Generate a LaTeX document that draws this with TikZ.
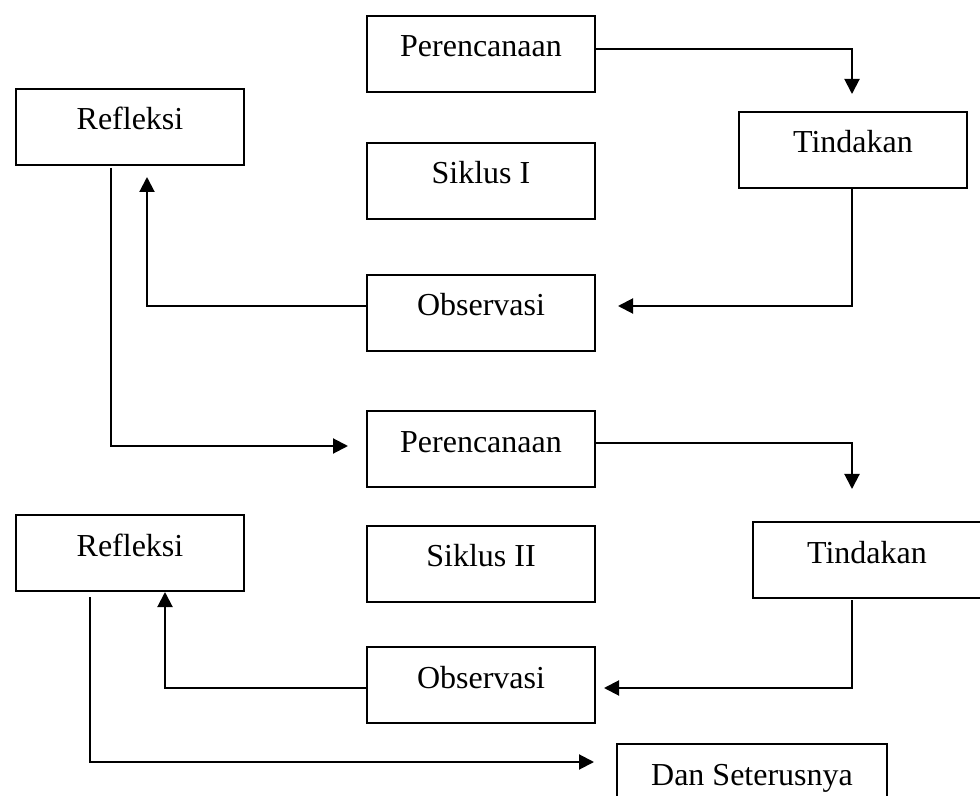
\documentclass[tikz,border=0pt]{standalone}
\usepackage{fontspec}
\setmainfont{Liberation Serif}
\usetikzlibrary{arrows.meta}
\begin{document}
\begin{tikzpicture}[x=0.5pt,y=-0.5pt,
  box/.style={draw, line width=1pt, rectangle, anchor=north west, inner sep=0pt, outer sep=0pt,
    minimum width=114pt, text height=20.5pt, text depth=17.5pt,
    font=\fontsize{16}{19}\selectfont},
  arr/.style={line width=1pt, -{Triangle[length=7.5pt,width=7.5pt]}}]
\clip (0,0) rectangle (980,796);
\fill[white] (0,0) rectangle (980,796);
% boxes
\node[box] (P1) at (367,16) {Perencanaan};
\node[box] (R1) at (16,89) {Refleksi};
\node[box] (T1) at (739,112) {Tindakan};
\node[box] (S1) at (367,143) {Siklus I};
\node[box] (O1) at (367,275) {Observasi};
\node[box] (P2) at (367,411) {Perencanaan};
\node[box] (R2) at (16,515) {Refleksi};
\node[box] (S2) at (367,526) {Siklus II};
\node[box] (T2) at (753,522) {Tindakan};
\node[box] (O2) at (367,647) {Observasi};
\node[box, minimum width=135pt] (DS) at (617,744) {Dan Seterusnya};
% free ends
\coordinate (t1in) at (852,94);
\coordinate (o1in) at (618,306);
\coordinate (r1in) at (147,177);
\coordinate (p2in) at (348,446);
\coordinate (t2in) at (852,489);
\coordinate (o2in) at (604,688);
\coordinate (r2in) at (165,592);
\coordinate (dsin) at (594,762);
% connectors
\draw[arr] ([yshift=2.5pt]P1.east) -| (t1in);
\draw[arr] ([xshift=-0.75pt]T1.south) |- (o1in);
\draw[arr] ([yshift=3.5pt]O1.west) -| (r1in);
\draw[arr] ([xshift=-9.5pt,yshift=-1.5pt]R1.south) |- (p2in);
\draw[arr] ([yshift=3pt]P2.east) -| (t2in);
\draw[arr] ([xshift=-7.5pt,yshift=-1pt]T2.south) |- (o2in);
\draw[arr] ([yshift=-1.5pt]O2.west) -| (r2in);
\draw[arr] ([xshift=-20pt,yshift=-3pt]R2.south) |- (dsin);
\end{tikzpicture}
\end{document}
